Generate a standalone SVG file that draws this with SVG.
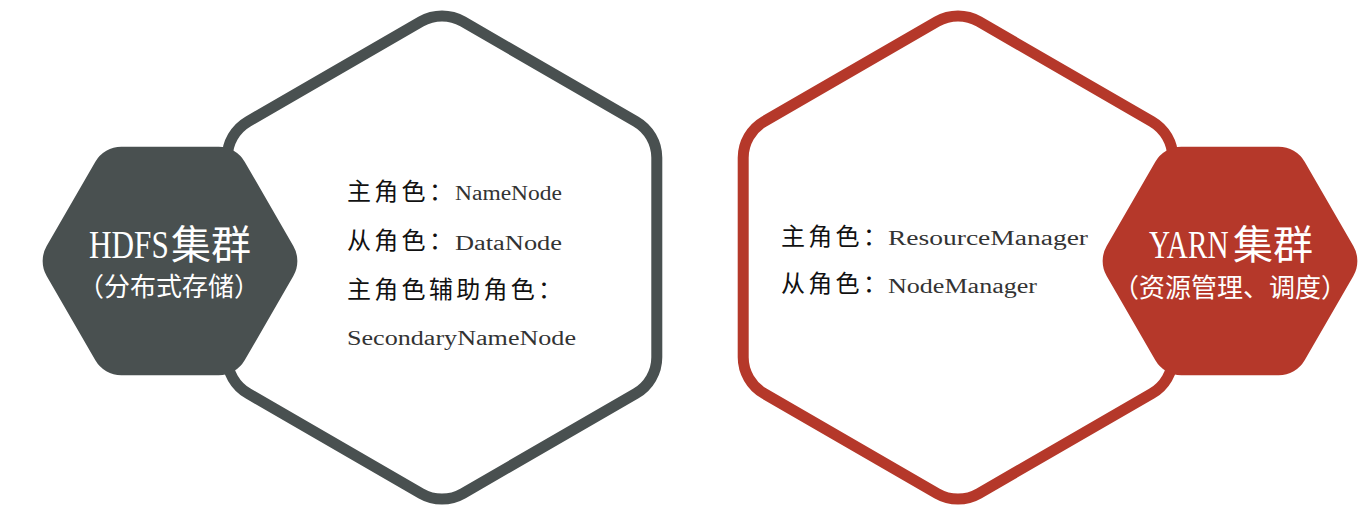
<svg xmlns="http://www.w3.org/2000/svg" xmlns:xlink="http://www.w3.org/1999/xlink" width="1365" height="514" viewBox="0 0 1365 514">
<defs>
<style>
.bighex{fill:#ffffff;stroke-width:11}
.gray{stroke:#495050}
.red{stroke:#b5382a}
.grayfill{fill:#495050}
.redfill{fill:#b5382a}
.cjk{font-family:"Noto Sans CJK SC","Noto Sans",sans-serif;fill:#111111;font-size:24px;letter-spacing:3.3px}
.lat{font-family:"Liberation Serif",serif;fill:#333333;font-size:20px}
.title{font-size:40px;fill:#ffffff}
.tlat{font-family:"Liberation Serif",serif}
.tcjk{font-family:"Noto Sans CJK SC",sans-serif}
.sub{font-family:"Noto Sans CJK SC",sans-serif;font-size:26px;fill:#ffffff;text-anchor:middle}
</style>
<path id="big" d="M20.96,-235.9 L193.84,-136.1 A42,42 0 0 1 214.8,-99.8 L214.8,99.8 A42,42 0 0 1 193.84,136.1 L20.96,235.9 A42,42 0 0 1 -20.96,235.9 L-193.84,136.1 A42,42 0 0 1 -214.8,99.8 L-214.8,-99.8 A42,42 0 0 1 -193.84,-136.1 L-20.96,-235.9 A42,42 0 0 1 20.96,-235.9 Z"/>
<path id="small" d="M-48.68,-114.3 L48.68,-114.3 A30,30 0 0 1 74.66,-99.3 L123.34,-15.0 A30,30 0 0 1 123.34,15.0 L74.66,99.3 A30,30 0 0 1 48.68,114.3 L-48.68,114.3 A30,30 0 0 1 -74.66,99.3 L-123.34,15.0 A30,30 0 0 1 -123.34,-15.0 L-74.66,-99.3 A30,30 0 0 1 -48.68,-114.3 Z"/>
</defs>
<rect x="0" y="0" width="1365" height="514" fill="#ffffff"/>
<g id="connectors"></g>

<g id="hdfs-roles">
<use xlink:href="#big" href="#big" class="bighex gray" transform="translate(442,257.5)"/>
<text class="cjk" x="347" y="200">主角色：</text>
<text class="lat" x="455" y="200" textLength="107" lengthAdjust="spacingAndGlyphs">NameNode</text>
<text class="cjk" x="347" y="249">从角色：</text>
<text class="lat" x="455" y="250" textLength="107" lengthAdjust="spacingAndGlyphs">DataNode</text>
<text class="cjk" x="347" y="298">主角色辅助角色：</text>
<text class="lat" x="347" y="345" textLength="229" lengthAdjust="spacingAndGlyphs">SecondaryNameNode</text>
</g>

<g id="yarn-roles">
<use xlink:href="#big" href="#big" class="bighex red" transform="translate(958,257.5)"/>
<text class="cjk" x="781" y="245">主角色：</text>
<text class="lat" x="888" y="245" textLength="200" lengthAdjust="spacingAndGlyphs">ResourceManager</text>
<text class="cjk" x="781" y="292">从角色：</text>
<text class="lat" x="888" y="293" textLength="149" lengthAdjust="spacingAndGlyphs">NodeManager</text>
</g>

<g id="hdfs-cluster">
<use xlink:href="#small" href="#small" class="grayfill" transform="translate(170,261)"/>
<text class="title tlat" transform="translate(89,258) scale(0.78,1)" x="0" y="0">HDFS</text>
<text class="title tcjk" x="171" y="259">集群</text>
<text class="sub" x="169" y="296">（分布式存储）</text>
</g>

<g id="yarn-cluster">
<use xlink:href="#small" href="#small" class="redfill" transform="translate(1230,261)"/>
<text class="title tlat" transform="translate(1149,258) scale(0.73,1)" x="0" y="0">YARN</text>
<text class="title tcjk" x="1233" y="259">集群</text>
<text class="sub" x="1230" y="297">（资源管理、调度）</text>
</g>
</svg>
